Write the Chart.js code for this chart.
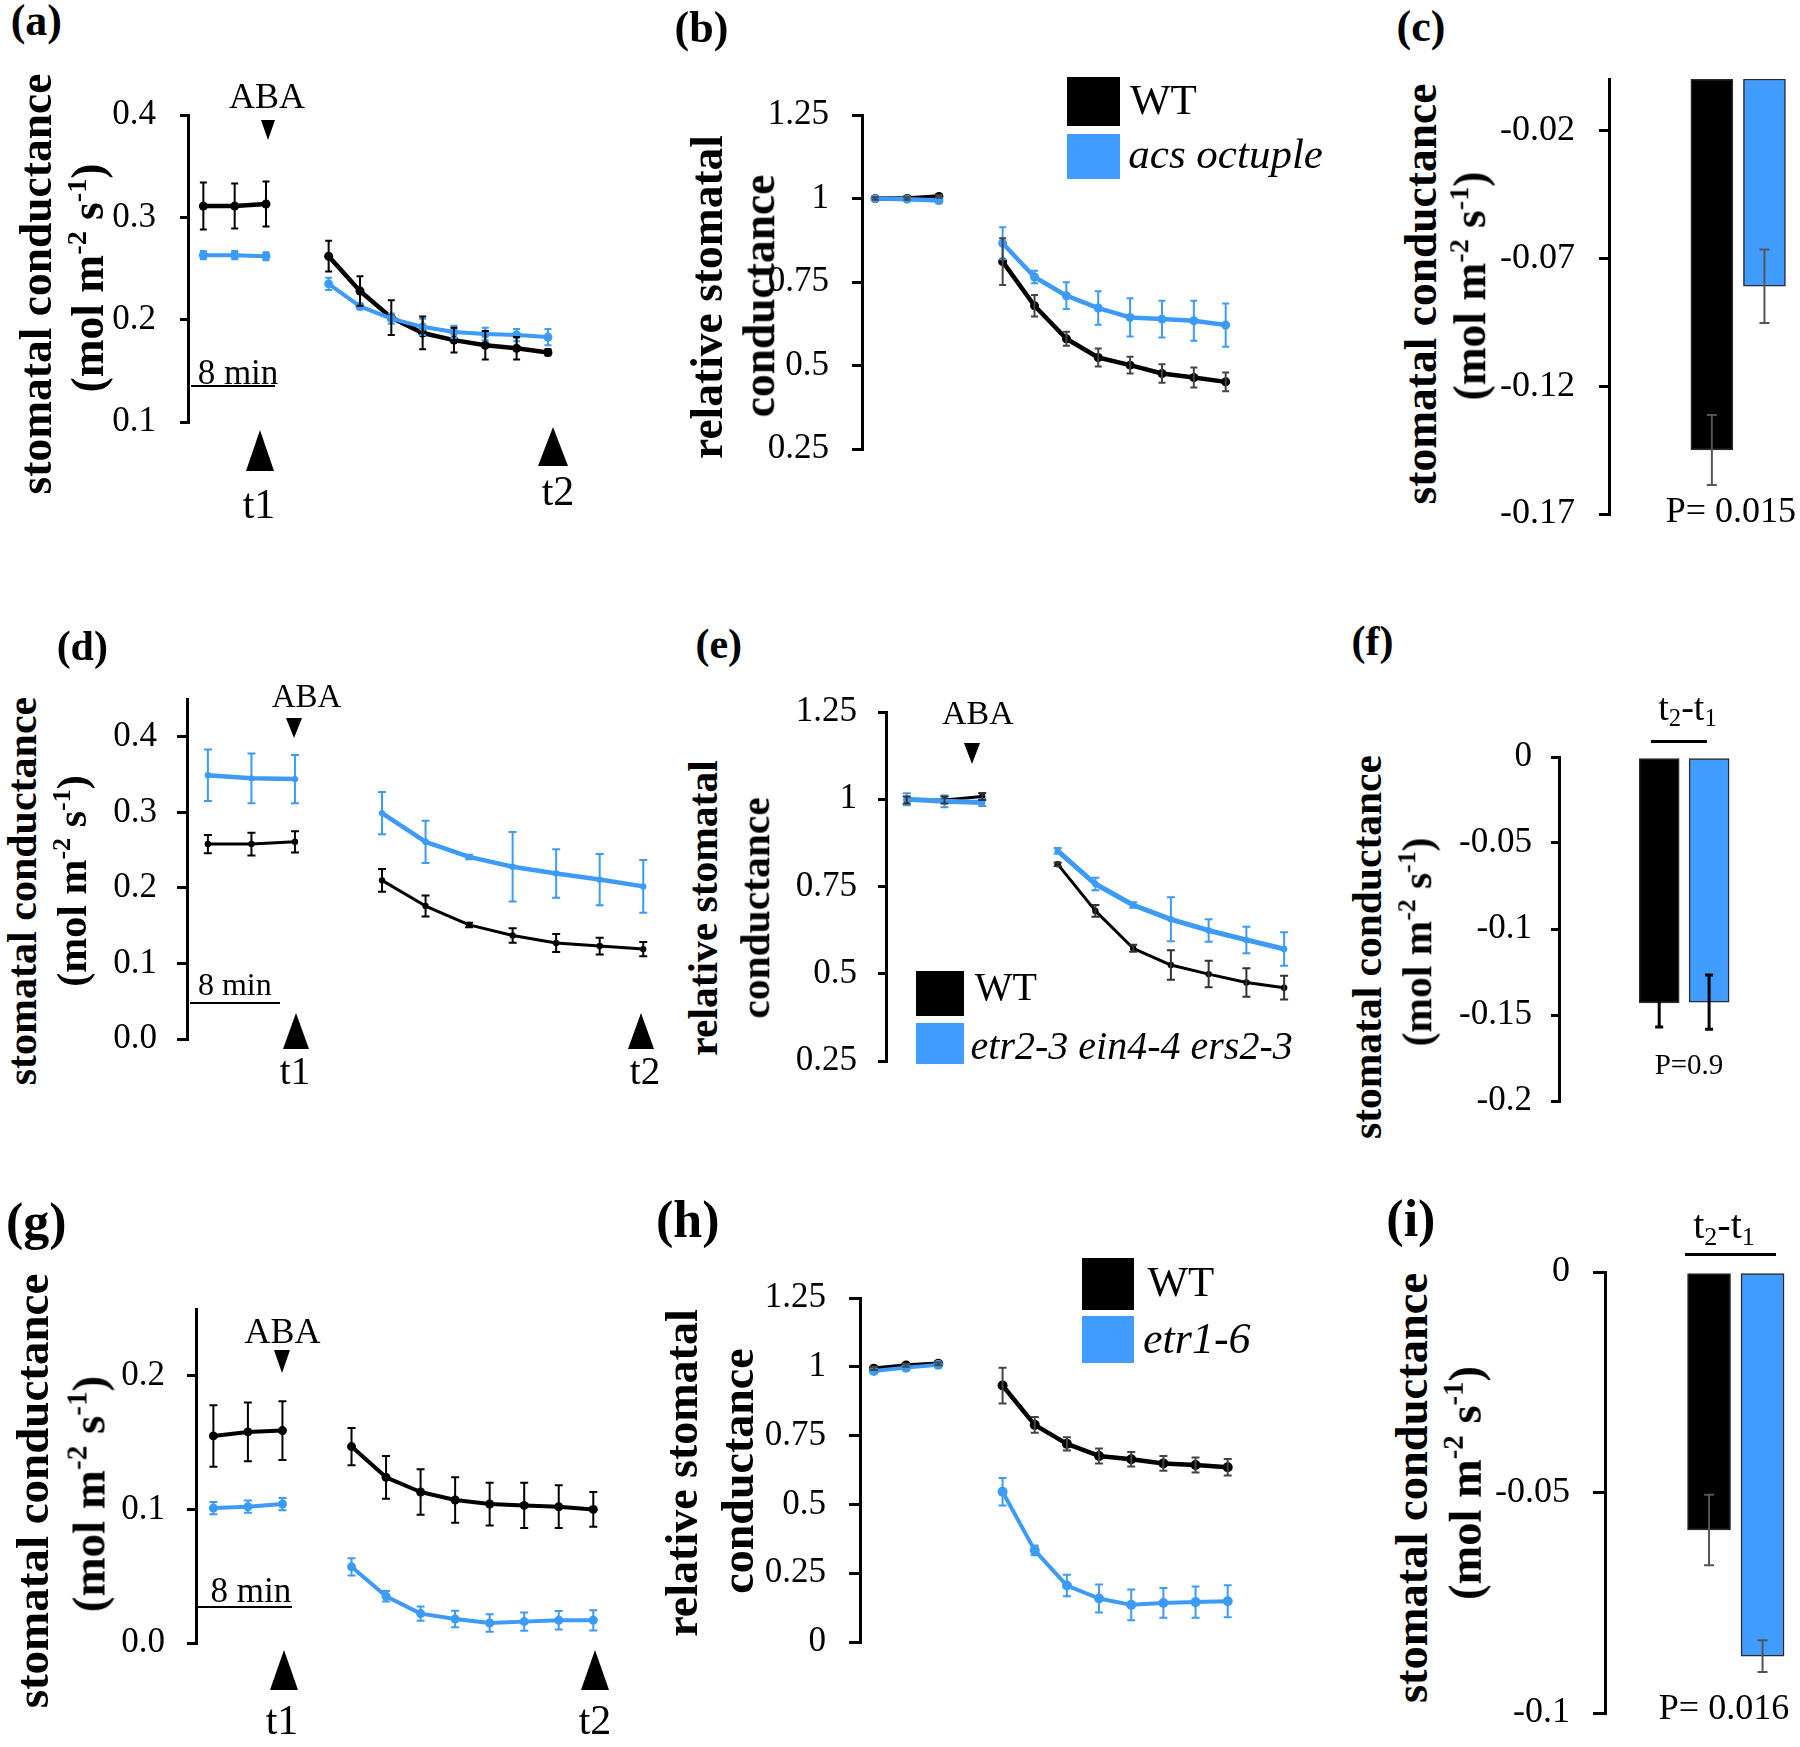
<!DOCTYPE html>
<html><head><meta charset="utf-8">
<title>Stomatal conductance responses to ABA</title>
<script src="https://cdn.jsdelivr.net/npm/chart.js@4.4.1/dist/chart.umd.min.js"></script>
<style>
html,body{margin:0;padding:0;background:#fff;}
body{width:1800px;height:1747px;position:relative;overflow:hidden;font-family:'Liberation Serif','Times New Roman',serif;}
.t{position:absolute;color:#000;white-space:nowrap;line-height:1;}
.t sup{font-size:0.62em;vertical-align:0.62em;line-height:0;}
.t sub{font-size:0.65em;vertical-align:-0.25em;line-height:0;}
.shape{position:absolute;}
canvas{position:absolute;}
</style></head><body>
<script>
// ================= DATA =================
const genotypesABC = ['WT', 'acs octuple'];
const genotypesDEF = ['WT', 'etr2-3 ein4-4 ers2-3'];
const genotypesGHI = ['WT', 'etr1-6'];

// time-point index (3 points before ABA, gap, points after ABA)
const timeIdx12 = [0,1,2,3,4,5,6,7,8,9,10,11];
const timeIdx11 = [0,1,2,3,4,5,6,7,8,9,10];

// (a) absolute stomatal conductance, WT vs acs octuple
const aWT     = [0.311,0.311,0.313,null,0.262,0.228,0.202,0.187,0.180,0.175,0.172,0.168];
const aWTErr  = [0.023,0.022,0.022,null,0.015,0.0145,0.017,0.016,0.012,0.014,0.011,0.003];
const aMut    = [0.263,0.263,0.262,null,0.235,0.213,0.201,0.193,0.188,0.186,0.185,0.183];
const aMutErr = [0.004,0.004,0.004,null,0.006,0.003,0.005,0.008,0.006,0.006,0.006,0.008];
// (b) relative stomatal conductance
const bWT     = [1.0,1.0,1.006,null,0.811,0.679,0.580,0.524,0.501,0.476,0.464,0.451];
const bWTErr  = [0.004,0.004,0.004,null,0.07,0.032,0.021,0.027,0.025,0.028,0.03,0.028];
const bMut    = [1.0,0.998,0.994,null,0.866,0.765,0.709,0.672,0.644,0.639,0.634,0.621];
const bMutErr = [0.004,0.004,0.008,null,0.048,0.019,0.04,0.05,0.057,0.055,0.06,0.065];
// (c) t2 - t1
const cVals = [-0.145,-0.081];
const cErr  = [0.0137,0.0144];
const cP = 'P= 0.015';

// (d)
const dWT     = [0.258,0.258,0.261,null,0.210,0.176,0.151,0.137,0.127,0.123,0.119];
const dWTErr  = [0.012,0.015,0.014,null,0.015,0.014,0.003,0.0095,0.012,0.011,0.0095];
const dMut    = [0.349,0.345,0.344,null,0.299,0.261,0.241,0.228,0.219,0.211,0.202];
const dMutErr = [0.034,0.033,0.032,null,0.028,0.028,0.003,0.046,0.032,0.034,0.035];
// (e)
const eWT     = [0.998,0.998,1.008,null,0.814,0.680,0.573,0.525,0.499,0.475,0.460];
const eWTErr  = [0.01,0.01,0.01,null,0.005,0.017,0.01,0.042,0.038,0.041,0.034];
const eMut    = [1.0,0.994,0.991,null,0.852,0.757,0.697,0.656,0.624,0.597,0.571];
const eMutErr = [0.017,0.017,0.01,null,0.008,0.018,0.008,0.063,0.032,0.038,0.048];
// (f)
const fVals = [-0.143,-0.1425];
const fErr  = [0.014,0.0158];
const fP = 'P=0.9';

// (g)
const gWT     = [0.155,0.158,0.159,null,0.147,0.124,0.113,0.107,0.104,0.103,0.102,0.100];
const gWTErr  = [0.023,0.022,0.022,null,0.014,0.016,0.017,0.017,0.016,0.017,0.016,0.013];
const gMut    = [0.101,0.102,0.104,null,0.057,0.035,0.022,0.018,0.015,0.016,0.017,0.017];
const gMutErr = [0.0046,0.0046,0.0046,null,0.0064,0.004,0.0054,0.0062,0.0066,0.0069,0.0069,0.0076];
// (h)
const hWT     = [0.993,1.005,1.011,null,0.932,0.789,0.720,0.676,0.664,0.649,0.643,0.635];
const hWTErr  = [0.005,0.005,0.005,null,0.065,0.029,0.024,0.027,0.026,0.027,0.027,0.030];
const hMut    = [0.985,0.997,1.007,null,0.546,0.333,0.205,0.158,0.135,0.142,0.145,0.148];
const hMutErr = [0.005,0.005,0.005,null,0.05,0.018,0.039,0.051,0.056,0.054,0.057,0.058];
// (i)
const iVals = [-0.0585,-0.0871];
const iErr  = [0.008,0.0036];
const iP = 'P= 0.016';

// tick values and labels
const ticksA = [0.1,0.2,0.3,0.4];            const tickLabelsA = ['0.1','0.2','0.3','0.4'];
const ticksRel = [0.25,0.5,0.75,1,1.25];     const tickLabelsRel = ['0.25','0.5','0.75','1','1.25'];
const ticksC = [-0.17,-0.12,-0.07,-0.02];    const tickLabelsC = ['-0.17','-0.12','-0.07','-0.02'];
const ticksD = [0,0.1,0.2,0.3,0.4];          const tickLabelsD = ['0.0','0.1','0.2','0.3','0.4'];
const ticksF = [-0.2,-0.15,-0.1,-0.05,0];    const tickLabelsF = ['-0.2','-0.15','-0.1','-0.05','0'];
const ticksG = [0,0.1,0.2];                  const tickLabelsG = ['0.0','0.1','0.2'];
const ticksH = [0,0.25,0.5,0.75,1,1.25];     const tickLabelsH = ['0','0.25','0.5','0.75','1','1.25'];
const ticksI = [-0.1,-0.05,0];               const tickLabelsI = ['-0.1','-0.05','0'];

// ================= STYLE / LAYOUT =================
const BLUE_LINE = '#3d9bf8';
const BLUE_FILL = '#409cff';
const AXIS_W = 140, PAD_T = 70, PAD_B = 70, PAD_R = 8;
const FONT = "'Liberation Serif', 'Times New Roman', serif";

const LAYOUT = {
  a:{L:187.5,R:573,T:114.6,B:421.8,xMin:-0.49,xMax:11.8,yMin:0.1,yMax:0.4,tickLen:8,tickPad:24,tickFont:35},
  b:{L:861.5,R:1248,T:114.9,B:448.9,xMin:-0.414,xMax:11.7,yMin:0.25,yMax:1.25,tickLen:10,tickPad:23,tickFont:35},
  c:{L:1609.3,R:1800,T:79.1,B:513.8,xMin:-1.956,xMax:1.676,yMin:-0.17,yMax:0,tickLen:10,tickPad:24,tickFont:36},
  d:{L:187.2,R:665,T:698.9,B:1039.3,xMin:-0.48,xMax:10.5,yMin:0,yMax:0.45,tickLen:10,tickPad:20,tickFont:35},
  e:{L:885.6,R:1302.5,T:712.3,B:1061,xMin:-0.549,xMax:10.5,yMin:0.25,yMax:1.25,tickLen:8,tickPad:21,tickFont:35},
  f:{L:1559,R:1758.6,T:756.9,B:1100.6,xMin:-2.008,xMax:2.0,yMin:-0.2,yMax:0,tickLen:8,tickPad:19,tickFont:35},
  g:{L:196.1,R:614.4,T:1308.6,B:1642.9,xMin:-0.503,xMax:11.6,yMin:0,yMax:0.25,tickLen:9,tickPad:22,tickFont:35},
  h:{L:860.3,R:1246.9,T:1298.3,B:1641.7,xMin:-0.433,xMax:11.6,yMin:0,yMax:1.25,tickLen:11,tickPad:23,tickFont:35},
  i:{L:1605,R:1800,T:1271.7,B:1713.3,xMin:-1.944,xMax:1.70,yMin:-0.1,yMax:0,tickLen:12,tickPad:23,tickFont:36}
};

// ================= PLUGINS =================
const errPlugin = {
  id:'errbars',
  afterDatasetsDraw(chart){
    const ctx = chart.ctx, ys = chart.scales.y;
    chart.data.datasets.forEach((ds, di) => {
      if (!ds.errors) return;
      const meta = chart.getDatasetMeta(di);
      ctx.save();
      ctx.strokeStyle = ds.errColor; ctx.lineWidth = ds.errWidth; ctx.lineCap = 'butt';
      meta.data.forEach((el, i) => {
        const e = ds.errors[i];
        const p = meta.controller.getParsed(i);
        if (e == null || !p || p.y == null || isNaN(p.y)) return;
        const x = el.x, y1 = ys.getPixelForValue(p.y + e), y2 = ys.getPixelForValue(p.y - e), c = ds.capW;
        ctx.beginPath();
        ctx.moveTo(x, y1); ctx.lineTo(x, y2);
        ctx.moveTo(x - c, y1); ctx.lineTo(x + c, y1);
        ctx.moveTo(x - c, y2); ctx.lineTo(x + c, y2);
        ctx.stroke();
      });
      ctx.restore();
    });
  }
};

function yAxis(c, tv, tl){
  return {
    type:'linear', min:c.yMin, max:c.yMax,
    afterFit: s => { s.width = AXIS_W; },
    afterBuildTicks: s => { s.ticks = tv.map(v => ({value:v})); },
    ticks:{callback:(v,i) => tl[i], autoSkip:false, maxRotation:0, minRotation:0, padding:c.tickPad, color:'#000', font:{family:FONT, size:c.tickFont}},
    grid:{drawOnChartArea:false, drawTicks:true, tickLength:c.tickLen, color:'#000', lineWidth:3},
    border:{display:true, color:'#000', width:3}
  };
}

function makeCanvas(c){
  const L = Math.round(c.L), R = Math.round(c.R), T = Math.round(c.T), B = Math.round(c.B);
  const W = AXIS_W + (R - L) + PAD_R, H = (B - T) + PAD_T + PAD_B;
  const cv = document.createElement('canvas');
  cv.width = W; cv.height = H;
  cv.style.left = (L - AXIS_W) + 'px'; cv.style.top = (T - PAD_T) + 'px';
  cv.style.width = W + 'px'; cv.style.height = H + 'px';
  document.body.appendChild(cv);
  return cv;
}

function baseOptions(c, tv, tl){
  return {
    responsive:false, animation:false, events:[], devicePixelRatio:1,
    layout:{padding:{top:PAD_T,bottom:PAD_B,left:0,right:PAD_R}, autoPadding:false},
    plugins:{legend:{display:false}, tooltip:{enabled:false}, title:{display:false}},
    scales:{
      x:{type:'linear', display:false, min:c.xMin, max:c.xMax, offset:false},
      y:yAxis(c, tv, tl)
    }
  };
}

function lineDS(label, times, vals, errs, color, lw, pr, errColor, ew, cap){
  return {
    label, data: times.map((t,i) => ({x:t, y:vals[i]})),
    borderColor:color, backgroundColor:color, pointBackgroundColor:color, pointBorderColor:color,
    borderWidth:lw, pointRadius:pr, pointHoverRadius:pr, pointBorderWidth:0,
    borderJoinStyle:'round', tension:0, spanGaps:false,
    errors:errs, errColor:errColor, errWidth:ew, capW:cap
  };
}

function lineChart(key, tv, tl, times, wt, wtErr, mut, mutErr, st){
  const c = LAYOUT[key];
  new Chart(makeCanvas(c), {
    type:'line',
    data:{datasets:[
      lineDS('mutant', times, mut, mutErr, BLUE_LINE, st.lwMut, st.pr, BLUE_LINE, st.ew, st.cap),
      lineDS('WT', times, wt, wtErr, '#000', st.lwWT, st.pr, st.ecWT, st.ew, st.cap)
    ]},
    options: baseOptions(c, tv, tl),
    plugins:[errPlugin]
  });
}

function barChart(key, tv, tl, labels, vals, errs, st){
  const c = LAYOUT[key];
  new Chart(makeCanvas(c), {
    type:'bar',
    data:{datasets:[{
      label:'t2-t1', data: vals.map((v,i) => ({x:i, y:v})),
      backgroundColor:['#000', BLUE_FILL], borderColor:'#2a2a2a', borderWidth:1.5, borderSkipped:false,
      barThickness:st.thick, errors:errs, errColor:st.ec, errWidth:st.ew, capW:st.cap
    }]},
    options: baseOptions(c, tv, tl),
    plugins:[errPlugin]
  });
}

// ================= CHARTS =================
lineChart('a', ticksA, tickLabelsA, timeIdx12, aWT, aWTErr, aMut, aMutErr, {lwWT:4.5, lwMut:4, pr:4.5, ew:2, cap:3.5, ecWT:'#000'});
lineChart('b', ticksRel, tickLabelsRel, timeIdx12, bWT, bWTErr, bMut, bMutErr, {lwWT:4.5, lwMut:4.5, pr:4.5, ew:2, cap:3.5, ecWT:'#444'});
barChart('c', ticksC, tickLabelsC, genotypesABC, cVals, cErr, {thick:42, ec:'#555', ew:2, cap:5});
lineChart('d', ticksD, tickLabelsD, timeIdx11, dWT, dWTErr, dMut, dMutErr, {lwWT:3, lwMut:4.5, pr:3.2, ew:2, cap:4, ecWT:'#000'});
lineChart('e', ticksRel, tickLabelsRel, timeIdx11, eWT, eWTErr, eMut, eMutErr, {lwWT:3, lwMut:5, pr:3.2, ew:2, cap:4, ecWT:'#333'});
barChart('f', ticksF, tickLabelsF, genotypesDEF, fVals, fErr, {thick:40, ec:'#000', ew:3, cap:4});
lineChart('g', ticksG, tickLabelsG, timeIdx12, gWT, gWTErr, gMut, gMutErr, {lwWT:4, lwMut:4, pr:4.5, ew:2, cap:4, ecWT:'#000'});
lineChart('h', ticksH, tickLabelsH, timeIdx12, hWT, hWTErr, hMut, hMutErr, {lwWT:4.5, lwMut:4, pr:5, ew:2, cap:4, ecWT:'#444'});
barChart('i', ticksI, tickLabelsI, genotypesGHI, iVals, iErr, {thick:43, ec:'#555', ew:2, cap:5});

// ================= TEXT & ANNOTATIONS =================
function T(html, x, y, size, o){
  o = o || {};
  const d = document.createElement('div');
  d.className = 't'; d.innerHTML = html;
  const s = d.style;
  s.fontSize = size + 'px'; s.left = x + 'px'; s.top = y + 'px';
  if (o.bold) s.fontWeight = 'bold';
  if (o.italic) s.fontStyle = 'italic';
  let tr = o.left ? 'translate(0,-50%)' : 'translate(-50%,-50%)';
  if (o.rot) tr += ' rotate(-90deg)';
  s.transform = tr;
  document.body.appendChild(d);
}
function tri(cx, top, bottom, w, dir){
  const d = document.createElement('div');
  d.className = 'shape';
  const s = d.style, h = bottom - top;
  s.left = (cx - w/2) + 'px'; s.top = top + 'px'; s.width = '0'; s.height = '0';
  s.borderLeft = (w/2) + 'px solid transparent'; s.borderRight = (w/2) + 'px solid transparent';
  if (dir === 'down') s.borderTop = h + 'px solid #000'; else s.borderBottom = h + 'px solid #000';
  document.body.appendChild(d);
}
function rect(x1, y1, x2, y2, color){
  const d = document.createElement('div');
  d.className = 'shape';
  const s = d.style;
  s.left = x1 + 'px'; s.top = y1 + 'px'; s.width = (x2 - x1) + 'px'; s.height = (y2 - y1) + 'px'; s.background = color;
  document.body.appendChild(d);
}

const UNITS = '(mol m<sup>-2</sup> s<sup>-1</sup>)';
const T2T1 = 't<sub>2</sub>-t<sub>1</sub>';

// panel letters
T('(a)', 36.3, 21.4, 44, {bold:true});
T('(b)', 701.5, 27.9, 44, {bold:true});
T('(c)', 1421, 27.4, 44, {bold:true});
T('(d)', 82.3, 646, 42, {bold:true});
T('(e)', 718.8, 643.5, 42, {bold:true});
T('(f)', 1372.5, 641.4, 42, {bold:true});
T('(g)', 36.3, 1222.3, 52, {bold:true});
T('(h)', 687.7, 1220, 52, {bold:true});
T('(i)', 1410.9, 1219, 52, {bold:true});

// y-axis titles
T('stomatal conductance', 36.4, 283.9, 45.5, {bold:true, rot:true});
T(UNITS, 88, 277.8, 45.5, {bold:true, rot:true});
T('relative stomatal', 707, 296.6, 45.5, {bold:true, rot:true});
T('conductance', 759, 296.1, 45.5, {bold:true, rot:true});
T('stomatal conductance', 1421, 294.1, 45.5, {bold:true, rot:true});
T(UNITS, 1470, 285.5, 45.5, {bold:true, rot:true});

T('stomatal conductance', 22.4, 890.8, 42, {bold:true, rot:true});
T(UNITS, 72, 880.8, 42, {bold:true, rot:true});
T('relative stomatal', 704.2, 908.3, 41.5, {bold:true, rot:true});
T('conductance', 756, 908.3, 41.5, {bold:true, rot:true});
T('stomatal conductance', 1367.5, 947, 41.5, {bold:true, rot:true});
T(UNITS, 1418, 941.9, 41.5, {bold:true, rot:true});

T('stomatal conductance', 32.1, 1491.1, 47, {bold:true, rot:true});
T(UNITS, 88.5, 1493.7, 47, {bold:true, rot:true});
T('relative stomatal', 682.3, 1472.5, 46, {bold:true, rot:true});
T('conductance', 737.6, 1470.8, 46, {bold:true, rot:true});
T('stomatal conductance', 1411.7, 1488.4, 46.5, {bold:true, rot:true});
T(UNITS, 1466, 1483.2, 46.5, {bold:true, rot:true});

// (a) annotations
T('ABA', 267, 96.3, 36);
tri(268.8, 119.7, 139.9, 15, 'down');
T('8 min', 238, 371.6, 35);
rect(191.4, 385.3, 274.8, 387.3, '#000');
tri(260.5, 429.9, 471.5, 29, 'up');
tri(553, 426.9, 466.5, 30, 'up');
T('t1', 259, 503.5, 42);
T('t2', 558, 491.3, 42);

// (b) legend
rect(1067.3, 77.3, 1120, 126, '#000');
rect(1067.3, 134, 1120, 179.3, BLUE_FILL);
T(genotypesABC[0], 1130, 99.2, 43, {left:true});
T(genotypesABC[1], 1128.3, 153, 43, {left:true, italic:true});

// (c)
T(cP, 1730.8, 509.6, 36);

// (d) annotations
T('ABA', 306.6, 696, 33);
tri(294, 717.7, 738.3, 17, 'down');
T('8 min', 234.8, 984, 32);
rect(190.2, 1001.7, 280, 1003.7, '#000');
tri(296.4, 1013.3, 1050, 27, 'up');
tri(641, 1013.3, 1050, 26, 'up');
T('t1', 295, 1070, 39);
T('t2', 645, 1070, 39);

// (e) annotations + legend
T('ABA', 977.9, 713.3, 34);
tri(972.7, 742.7, 764.3, 16.6, 'down');
rect(915.9, 971, 964.4, 1016, '#000');
rect(915.9, 1022.7, 964.4, 1064.3, BLUE_FILL);
T(genotypesDEF[0], 974.7, 987, 40, {left:true});
T(genotypesDEF[1], 970.6, 1045.5, 40, {left:true, italic:true});

// (f)
T(T2T1, 1687.5, 707.2, 38);
rect(1651, 740.2, 1706.7, 743.2, '#000');
T(fP, 1689, 1064.1, 29);

// (g) annotations
T('ABA', 282.6, 1331.2, 36);
tri(282, 1349.9, 1373, 16.6, 'down');
T('8 min', 250.8, 1589.6, 35);
rect(197, 1606.4, 292.3, 1608.4, '#000');
tri(284, 1650.1, 1690.9, 29, 'up');
tri(595, 1650.1, 1690.9, 29, 'up');
T('t1', 282, 1720.2, 42);
T('t2', 595, 1720.2, 42);

// (h) legend
rect(1081.5, 1258.3, 1134.4, 1310, '#000');
rect(1081.5, 1316, 1134.4, 1362.7, BLUE_FILL);
T(genotypesGHI[0], 1147.4, 1280.5, 43, {left:true});
T(genotypesGHI[1], 1143, 1339, 44, {left:true, italic:true});

// (i)
T(T2T1, 1724, 1225.1, 40);
rect(1685, 1253.2, 1776, 1256.2, '#000');
T(iP, 1724, 1707.2, 36);
</script>
</body></html>
